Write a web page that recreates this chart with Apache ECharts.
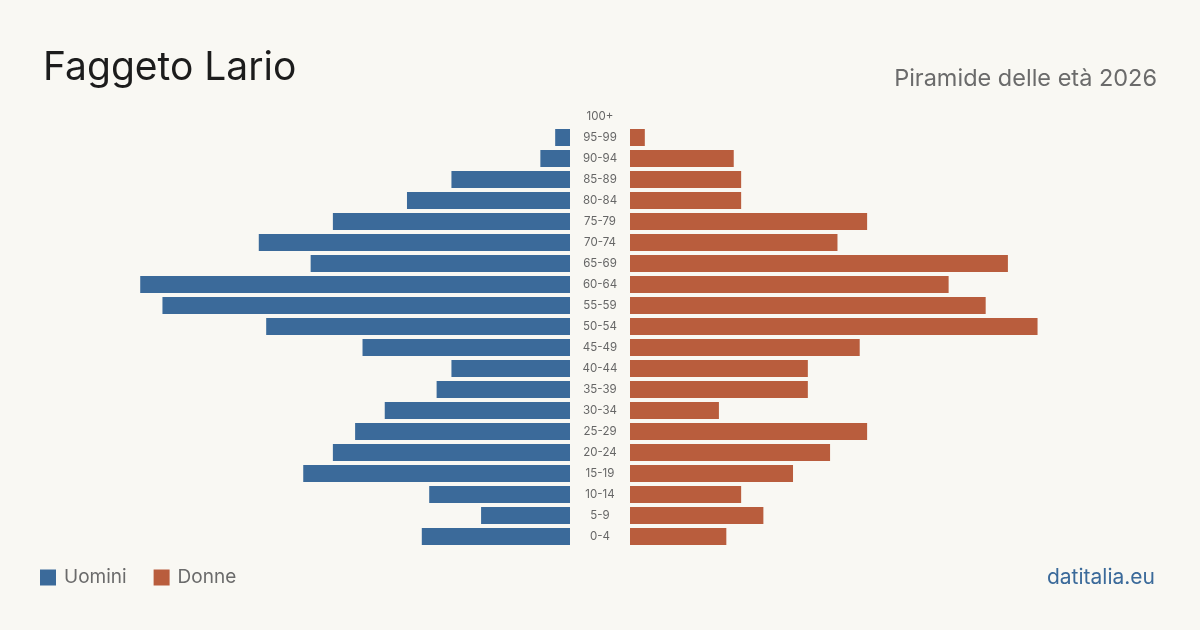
<!DOCTYPE html>
<html>
<head>
<meta charset="utf-8">
<title>Faggeto Lario - Piramide delle età 2026</title>
<script src="https://cdn.jsdelivr.net/npm/echarts@6/dist/echarts.min.js"></script>
<style>
  html, body { margin: 0; padding: 0; background: #f9f8f3; }
  #chart { width: 1200px; height: 630px; }
</style>
</head>
<body>
<div id="chart"></div>
<script>
// fasce d'età, dall'alto verso il basso
const ageGroups = ['100+', '95-99', '90-94', '85-89', '80-84', '75-79', '70-74', '65-69', '60-64', '55-59',
  '50-54', '45-49', '40-44', '35-39', '30-34', '25-29', '20-24', '15-19', '10-14', '5-9', '0-4']
const uomini = [0, 2, 4, 16, 22, 32, 42, 35, 58, 55, 41, 28, 16, 18, 25, 29, 32, 36, 19, 12, 20]
const donne = [0, 2, 14, 15, 15, 32, 28, 51, 43, 48, 55, 31, 24, 24, 12, 32, 27, 22, 15, 18, 13]
const axisMax = 60

const BLUE = '#3b6a9a'
const RED = '#b95d3d'
const FONT = 'Inter, "Noto Sans", sans-serif'

const chart = echarts.init(document.getElementById('chart'))

chart.setOption({
  backgroundColor: '#f9f8f3',
  textStyle: { fontFamily: FONT },
  animation: false,
  title: [
    {
      text: 'Faggeto Lario',
      left: 38,
      top: 44,
      textStyle: { fontSize: 39, fontWeight: 'normal', color: '#1c1c1c', fontFamily: FONT }
    },
    {
      text: 'Piramide delle età 2026',
      right: 38,
      top: 62,
      textStyle: { fontSize: 23.5, fontWeight: 'normal', color: '#6b6b6b', fontFamily: FONT }
    },
    {
      text: 'datitalia.eu',
      right: 40,
      top: 562,
      textStyle: { fontSize: 21, fontWeight: 'normal', color: BLUE, fontFamily: FONT }
    }
  ],
  legend: {
    left: 35,
    top: 563,
    icon: 'rect',
    itemWidth: 16,
    itemHeight: 16,
    itemGap: 27,
    selectedMode: false,
    textStyle: { fontSize: 19, color: '#6b6b6b', fontFamily: FONT, padding: [0, 0, 0, 3] },
    data: ['Uomini', 'Donne']
  },
  grid: [ // sinistra uomini, destra donne
    { left: 125.4, right: 630, top: 106, height: 441 },
    { left: 630, right: 125.4, top: 106, height: 441 }
  ],
  xAxis: [
    { type: 'value', gridIndex: 0, min: 0, max: axisMax, inverse: true, show: false },
    { type: 'value', gridIndex: 1, min: 0, max: axisMax, show: false }
  ],
  yAxis: [
    {
      type: 'category',
      gridIndex: 0,
      data: ageGroups,
      inverse: true,
      position: 'right',
      axisLine: { show: false },
      axisTick: { show: false },
      axisLabel: {
        show: true,
        align: 'center',
        margin: 30,
        fontSize: 11.5,
        color: '#666666',
        fontFamily: FONT,
        padding: [2, 0, 0, 0]
      }
    },
    {
      type: 'category',
      gridIndex: 1,
      data: ageGroups,
      inverse: true,
      axisLine: { show: false },
      axisTick: { show: false },
      axisLabel: { show: false }
    }
  ],
  series: [
    {
      name: 'Uomini',
      type: 'bar',
      xAxisIndex: 0,
      yAxisIndex: 0,
      barWidth: 17,
      itemStyle: { color: BLUE },
      data: uomini
    },
    {
      name: 'Donne',
      type: 'bar',
      xAxisIndex: 1,
      yAxisIndex: 1,
      barWidth: 17,
      itemStyle: { color: RED },
      data: donne
    }
  ]
})
</script>
</body>
</html>
